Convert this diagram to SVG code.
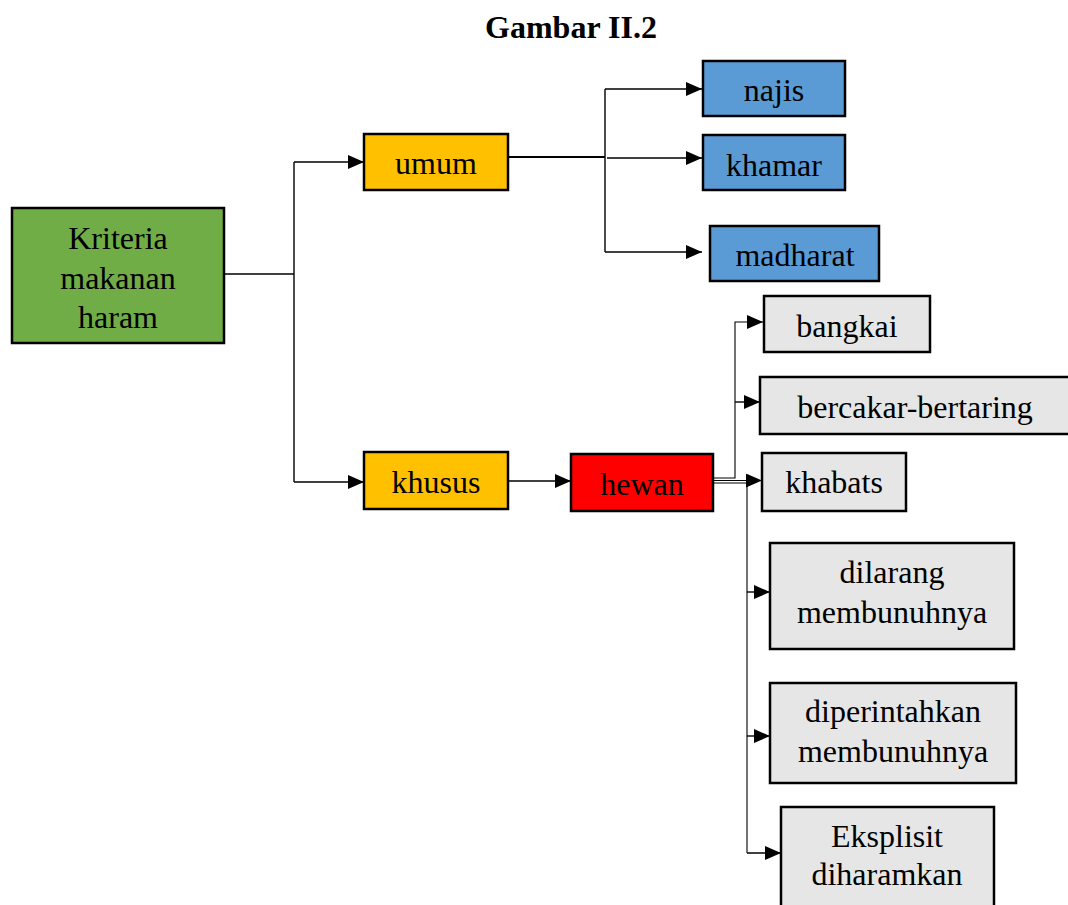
<svg xmlns="http://www.w3.org/2000/svg" width="1068" height="905" viewBox="0 0 1068 905">
<style>
.box{stroke:#000;stroke-width:2.5}
.t{font-family:"Liberation Serif","Times New Roman",serif;font-size:32px;fill:#000;text-anchor:middle}
.title{font-family:"Liberation Serif","Times New Roman",serif;font-size:32px;font-weight:bold;fill:#000;text-anchor:middle}
.c{fill:none;stroke:#000;stroke-width:1.4}
.green{fill:#70AD47}.gold{fill:#FFC000}.blue{fill:#5B9BD5}.red{fill:#FF0000}.gray{fill:#E6E6E6}
</style>
<defs>
<marker id="ah" markerUnits="userSpaceOnUse" markerWidth="17" markerHeight="15" refX="16" refY="7" orient="auto">
<path d="M0,0 L16,7 L0,14 z" fill="#000"/>
</marker>
</defs>
<rect width="1068" height="905" fill="#fff"/>
<text class="title" x="571" y="38">Gambar II.2</text>

<g id="connectors">
<path class="c" d="M224,274 H294"/>
<path class="c" d="M294,162 V482"/>
<path class="c" d="M294,162 H364" marker-end="url(#ah)"/>
<path class="c" d="M294,482 H364" marker-end="url(#ah)"/>
<path class="c" d="M508,157 H605" style="stroke-width:2"/>
<path class="c" d="M605,89 V252"/>
<path class="c" d="M605,89 H702" marker-end="url(#ah)"/>
<path class="c" d="M607,158 H702" marker-end="url(#ah)"/>
<path class="c" d="M605,252 H702" marker-end="url(#ah)"/>
<path class="c" d="M508,481 H571" marker-end="url(#ah)"/>
<path class="c" d="M713,478 H735 V322 H763" marker-end="url(#ah)" style="stroke-width:1.1"/>
<path class="c" d="M735,402 H760" marker-end="url(#ah)"/>
<path class="c" d="M713,480.5 H762" marker-end="url(#ah)" style="stroke-width:1.1"/>
<path class="c" d="M713,483 H747 V853" style="stroke-width:1.1"/>
<path class="c" d="M747,592 H770" marker-end="url(#ah)"/>
<path class="c" d="M747,736 H770" marker-end="url(#ah)"/>
<path class="c" d="M747,853 H781" marker-end="url(#ah)"/>
</g>

<g id="kriteria"><rect class="box green" x="12" y="208" width="212" height="135"/>
<text class="t" x="118" y="249">Kriteria</text><text class="t" x="118" y="289">makanan</text><text class="t" x="118" y="328">haram</text></g>

<g id="umum"><rect class="box gold" x="364" y="134" width="144" height="56"/><text class="t" x="436" y="174">umum</text></g>
<g id="khusus"><rect class="box gold" x="364" y="452" width="144" height="57"/><text class="t" x="436" y="493">khusus</text></g>

<g id="najis"><rect class="box blue" x="703" y="61" width="142" height="55"/><text class="t" x="774" y="101">najis</text></g>
<g id="khamar"><rect class="box blue" x="703" y="135" width="142" height="55"/><text class="t" x="774" y="176">khamar</text></g>
<g id="madharat"><rect class="box blue" x="710" y="226" width="169" height="55"/><text class="t" x="795" y="266">madharat</text></g>

<g id="hewan"><rect class="box red" x="571" y="454" width="142" height="57"/><text class="t" x="642" y="495">hewan</text></g>

<g id="bangkai"><rect class="box gray" x="764" y="296" width="166" height="56"/><text class="t" x="847" y="337">bangkai</text></g>
<g id="bercakar"><rect class="box gray" x="760" y="377" width="310" height="57"/><text class="t" x="915" y="418">bercakar-bertaring</text></g>
<g id="khabats"><rect class="box gray" x="762" y="453" width="144" height="58"/><text class="t" x="834" y="493">khabats</text></g>
<g id="dilarang"><rect class="box gray" x="770" y="543" width="244" height="106"/>
<text class="t" x="892" y="583">dilarang</text><text class="t" x="892" y="623">membunuhnya</text></g>
<g id="diperintahkan"><rect class="box gray" x="770" y="683" width="246" height="100"/>
<text class="t" x="893" y="722">diperintahkan</text><text class="t" x="893" y="762">membunuhnya</text></g>
<g id="eksplisit"><rect class="box gray" x="781" y="807" width="213" height="105"/>
<text class="t" x="887" y="847">Eksplisit</text><text class="t" x="887" y="885">diharamkan</text></g>
</svg>
